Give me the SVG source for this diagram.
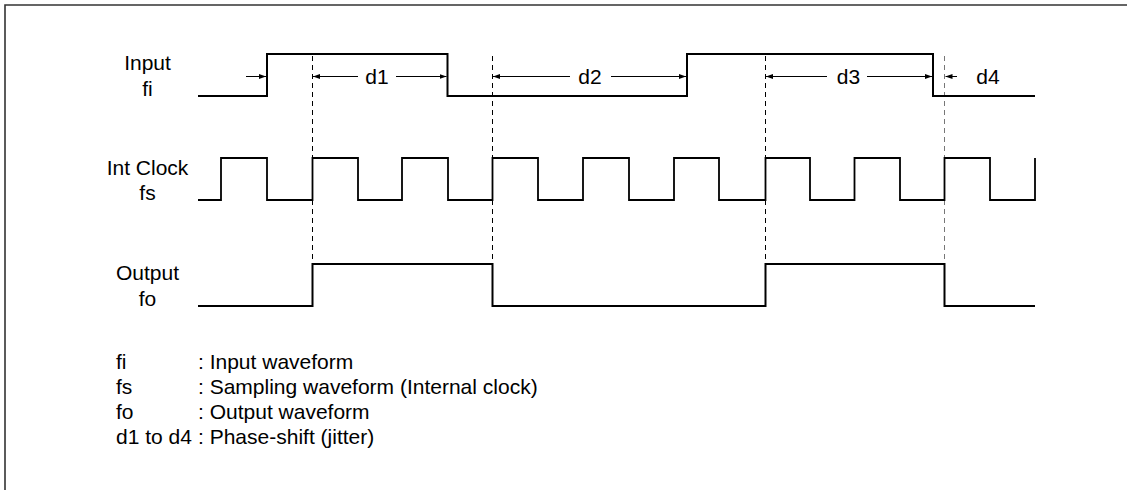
<svg xmlns="http://www.w3.org/2000/svg" width="1127" height="490" viewBox="0 0 1127 490">
  <style>
    .lbl { font-family: "Liberation Sans", Arial, sans-serif; font-size: 21px; fill: #000; }
    .mid { text-anchor: middle; }
    .wave { fill: none; stroke: #000; stroke-width: 2; stroke-linejoin: miter; }
    .clk { fill: none; stroke: #000; stroke-width: 1.8; }
    .dash { fill: none; stroke: #000; stroke-width: 1; stroke-dasharray: 5 4; }
    .dim { fill: none; stroke: #000; stroke-width: 1; }
  </style>
  <defs>
    <marker id="ah" viewBox="0 0 7 5" refX="7" refY="2.5" markerWidth="7" markerHeight="5" markerUnits="userSpaceOnUse" orient="auto">
      <path d="M0,0 L7,2.5 L0,5 Z" fill="#000"/>
    </marker>
  </defs>
  <rect width="1127" height="490" fill="#fff"/>
  <path id="frame" d="M5,500 V5 H1140" fill="none" stroke="#333" stroke-width="1.6"/>

  <g id="labels">
    <g id="label-input">
      <text class="lbl mid" x="147.5" y="70">Input</text>
      <text class="lbl mid" x="147.5" y="96">fi</text>
    </g>
    <g id="label-clock">
      <text class="lbl mid" x="147.5" y="175">Int Clock</text>
      <text class="lbl mid" x="147.5" y="200">fs</text>
    </g>
    <g id="label-output">
      <text class="lbl mid" x="147.5" y="280">Output</text>
      <text class="lbl mid" x="147.5" y="306">fo</text>
    </g>
  </g>

  <g id="guides">
    <line class="dash" x1="312.5" y1="56" x2="312.5" y2="264"/>
    <line class="dash" x1="492.5" y1="56" x2="492.5" y2="264"/>
    <line class="dash" x1="765.5" y1="56" x2="765.5" y2="264"/>
    <line class="dash" x1="944.5" y1="56" x2="944.5" y2="264" style="stroke:#777"/>
  </g>

  <g id="input-wave">
    <path class="wave" d="M198,96 H267 V54 H447.5 V96 H687 V54 H933 V96 H1035"/>
  </g>

  <g id="clock-wave">
    <path class="clk" d="M198,200 H221 V158 H267 V200 H312.5 V158 H358 V200 H402 V158 H448 V200 H492.5 V158 H538 V200 H583 V158 H629 V200 H674 V158 H719 V200 H765.5 V158 H810 V200 H854.5 V158 H900 V200 H944.5 V158 H990 V200 H1035 V158"/>
  </g>

  <g id="output-wave">
    <path class="wave" d="M198,306 H312.5 V264 H492.5 V306 H765.5 V264 H944.5 V306 H1035"/>
  </g>

  <g id="connectors">
    <line class="dim" x1="246" y1="76.5" x2="266" y2="76.5" marker-end="url(#ah)"/>
    <line class="dim" x1="358" y1="76.5" x2="313" y2="76.5" marker-end="url(#ah)"/>
    <line class="dim" x1="396" y1="76.5" x2="446.5" y2="76.5" marker-end="url(#ah)"/>
    <line class="dim" x1="570" y1="76.5" x2="493" y2="76.5" marker-end="url(#ah)"/>
    <line class="dim" x1="611" y1="76.5" x2="686" y2="76.5" marker-end="url(#ah)"/>
    <line class="dim" x1="827" y1="76.5" x2="766" y2="76.5" marker-end="url(#ah)"/>
    <line class="dim" x1="867" y1="76.5" x2="932" y2="76.5" marker-end="url(#ah)"/>
    <line class="dim" x1="957" y1="76.5" x2="945.5" y2="76.5" marker-end="url(#ah)"/>
  </g>

  <g id="dim-labels">
    <text class="lbl mid" x="377" y="84">d1</text>
    <text class="lbl mid" x="590" y="84">d2</text>
    <text class="lbl mid" x="848.5" y="84">d3</text>
    <text class="lbl mid" x="988" y="84">d4</text>
  </g>

  <g id="legend">
    <text class="lbl" x="116" y="369">fi</text>
    <text class="lbl" x="198" y="369">: Input waveform</text>
    <text class="lbl" x="116" y="394">fs</text>
    <text class="lbl" x="198" y="394">: Sampling waveform (Internal clock)</text>
    <text class="lbl" x="116" y="419">fo</text>
    <text class="lbl" x="198" y="419">: Output waveform</text>
    <text class="lbl" x="116" y="444">d1 to d4</text>
    <text class="lbl" x="198" y="444">: Phase-shift (jitter)</text>
  </g>
</svg>
